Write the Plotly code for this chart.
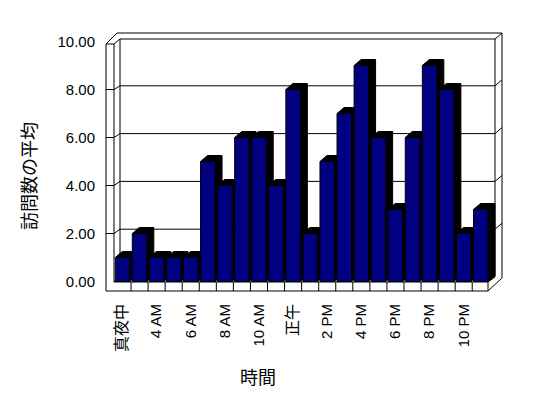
import plotly.graph_objects as go

# ---- data ----
categories = ["真夜中", "3 AM", "4 AM", "5 AM", "6 AM", "7 AM", "8 AM", "9 AM",
              "10 AM", "11 AM", "正午", "1 PM", "2 PM", "3 PM", "4 PM", "5 PM",
              "6 PM", "7 PM", "8 PM", "9 PM", "10 PM", "11 PM"]
visits = [1, 2, 1, 1, 1, 5, 4, 6, 6, 4, 8, 2, 5, 7, 9, 6, 3, 6, 9, 8, 2, 3]
y_ticks = [0, 2, 4, 6, 8, 10]
x_title = "時間"
y_title = "訪問数の平均"

# ---- page pixel <-> data mapping (layout constants) ----
OFF = 8                     # default page body margin
W, H = 548 - 2 * OFF, 398 - 2 * OFF
L, R, T, B = 100, 515, 20, 298   # plot area in page pixels
XA, XS = 122.5, 17.06      # x pixel of category 0, pixels per category
YA, YS = 281.5, 24.0       # y pixel of value 0 (front plane), pixels per unit

def dx(px):
    return (px - XA) / XS

def dy(py):
    return (YA - py) / YS

def paper_x(px):
    return (px - L) / (R - L)

def paper_y(py):
    return (B - py) / (B - T)

idx = list(range(len(categories)))
BW = 0.85
DX, DY = 7 / XS, 6 / YS

shapes = []
line = dict(color="black", width=1)

def seg(x0, y0, x1, y1):
    shapes.append(dict(type="line", xref="x", yref="y", x0=dx(x0), y0=dy(y0),
                       x1=dx(x1), y1=dy(y1), line=line, layer="below"))

def back_y(v):
    return 277 - 23.9 * v

# back wall
seg(120, 39, 495, 39)
seg(117, 33, 502, 33)
seg(120, 39, 120, 277)
seg(495, 39, 495, 277)
seg(502, 33, 502, 278)
seg(495, 39, 502, 33)
seg(120, 277, 495, 277)
# left wall slab
seg(106, 44, 106, 291)
seg(114, 44, 114, 282)
seg(106, 44, 114, 44)
seg(106, 44, 117, 33)
seg(114, 44, 120, 39)
seg(114, 282, 120, 277)
# floor
seg(106, 291, 488, 291)
seg(114, 282, 488, 282)
seg(488, 282, 488, 291)
seg(488, 282, 495, 277)
seg(488, 291, 502, 278)
for i in idx[:-1]:
    xb = XA + XS * (i + 0.5)
    seg(xb, 282, xb, 291)
# gridlines
for v in y_ticks[1:-1]:
    by = back_y(v)
    fy = YA - YS * v
    seg(120, by, 495, by)
    seg(106, fy, 114, fy)
    seg(114, fy, 120, by)
    seg(495, by, 502, by - 6)

# bar depth (top + right side), computed from the values
for i, v in zip(idx, visits):
    xl, xr = i - BW / 2, i + BW / 2
    path = (f"M{xl},{v} L{xl + DX},{v + DY} L{xr + DX},{v + DY} "
            f"L{xr + DX},{DY} L{xr},0 L{xr},{v} Z")
    shapes.append(dict(type="path", xref="x", yref="y", path=path,
                       fillcolor="black", line=dict(color="black", width=1),
                       layer="below"))

def lab(t):
    if any(ord(c) > 255 for c in t):
        return f'<span style="font-size:16px">{t}</span>'
    return t

fig = go.Figure()
fig.add_trace(go.Bar(
    x=idx, y=visits, width=BW,
    marker=dict(color="#000080", line=dict(color="black", width=1)),
    hoverinfo="skip",
))

font_family = "Liberation Sans, Arial, Noto Sans CJK JP, sans-serif"
fig.update_layout(
    width=W, height=H,
    margin=dict(l=L - OFF, r=(W + OFF) - R, t=T - OFF, b=(H + OFF) - B, pad=0),
    paper_bgcolor="white", plot_bgcolor="white",
    showlegend=False,
    font=dict(family=font_family, size=15, color="black"),
    shapes=shapes,
    xaxis=dict(
        range=[dx(L), dx(R)], showgrid=False, zeroline=False, showline=False,
        tickmode="array", tickvals=idx[::2],
        ticktext=[lab(c) for c in categories[::2]],
        tickangle=-90, ticks="", ticklabelstandoff=2,
        tickfont=dict(size=15, color="black"),
    ),
    yaxis=dict(
        range=[dy(B), dy(T)], showgrid=False, zeroline=False, showline=False,
        tickmode="array", tickvals=y_ticks, tickformat=".2f",
        ticks="", ticklabelstandoff=4, tickfont=dict(size=15, color="black"),
    ),
    annotations=[
        dict(text=x_title, x=paper_x(258), y=paper_y(376), xref="paper", yref="paper",
             showarrow=False, font=dict(size=18, family="Noto Sans CJK JP", color="black"),
             xanchor="center", yanchor="middle"),
        dict(text=y_title, x=paper_x(28), y=paper_y(176), xref="paper", yref="paper",
             showarrow=False, textangle=-90,
             font=dict(size=18, family="Noto Sans CJK JP", color="black"),
             xanchor="center", yanchor="middle"),
    ],
)

fig.write_html("out.html")
